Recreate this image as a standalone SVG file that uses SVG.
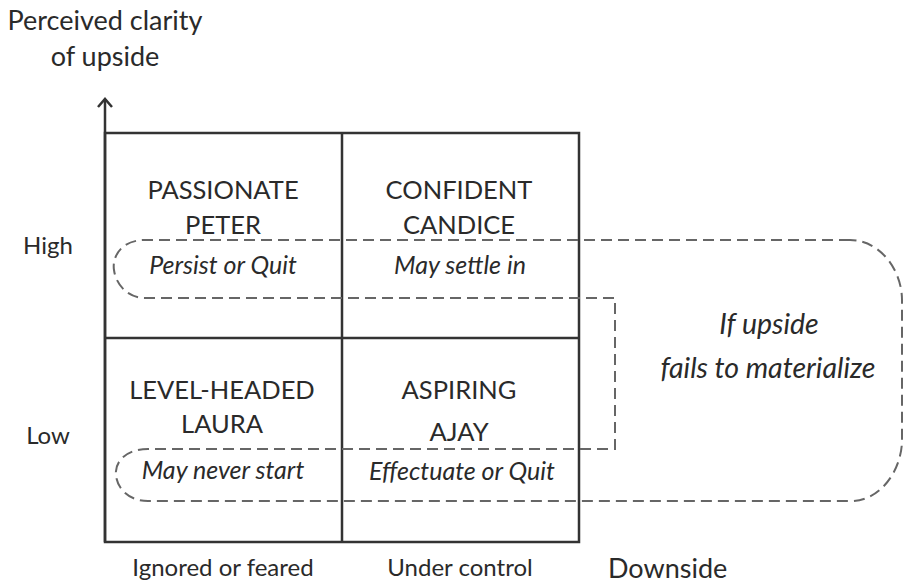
<svg xmlns="http://www.w3.org/2000/svg" width="903" height="584" viewBox="0 0 903 584">
<style>
  text { font-family: Lato, "Open Sans", "Liberation Sans", sans-serif; fill: #2a2a2a; }
  .name { font-size: 25.5px; text-anchor: middle; }
  .note { font-size: 25px; font-style: italic; text-anchor: middle; }
  .big-note { font-size: 28.5px; font-style: italic; text-anchor: middle; }
  .axis { font-size: 24px; text-anchor: middle; }
  .big { font-size: 27px; }
  .grid { stroke: #333; stroke-width: 2.5; fill: none; }
  .dash { stroke: #666; stroke-width: 2; fill: none; stroke-dasharray: 11 6; }
</style>
<rect width="903" height="584" fill="#fff"/>
<g id="axis-labels">
  <text class="big" x="105" y="30" text-anchor="middle">Perceived clarity</text>
  <text class="big" x="105" y="66" text-anchor="middle">of upside</text>
  <text class="axis" x="48" y="254">High</text>
  <text class="axis" x="48" y="444">Low</text>
  <text class="axis" x="223" y="576">Ignored or feared</text>
  <text class="axis" x="460" y="576">Under control</text>
  <text class="big" x="608" y="578">Downside</text>
</g>
<g id="grid">
  <line class="grid" x1="105" y1="99" x2="105" y2="542"/>
  <polyline class="grid" points="98,107 105,99 112,107"/>
  <rect class="grid" x="105" y="133" width="474" height="409"/>
  <line class="grid" x1="342" y1="133" x2="342" y2="542"/>
  <line class="grid" x1="105" y1="338" x2="579" y2="338"/>
</g>
<g id="connectors">
  <path class="dash" d="M850,240 H145 C120,240 112,258 114,270 C116,285 128,298 145,298 H615 V449 H148 C126,449 114,462 116,476 C118,490 130,501 148,501 H850 C880,502 902,470 902,440 V300 C902,270 880,240 850,240 Z"/>
</g>
<g id="passionate-peter">
  <text class="name" x="223" y="199">PASSIONATE</text>
  <text class="name" x="223" y="234">PETER</text>
  <text class="note" x="223" y="274">Persist or Quit</text>
</g>
<g id="confident-candice">
  <text class="name" x="459" y="199">CONFIDENT</text>
  <text class="name" x="459" y="234">CANDICE</text>
  <text class="note" x="460" y="274">May settle in</text>
</g>
<g id="level-headed-laura">
  <text class="name" x="222" y="399">LEVEL-HEADED</text>
  <text class="name" x="222" y="433">LAURA</text>
  <text class="note" x="223" y="479">May never start</text>
</g>
<g id="aspiring-ajay">
  <text class="name" x="459" y="399">ASPIRING</text>
  <text class="name" x="459" y="441">AJAY</text>
  <text class="note" x="462" y="480">Effectuate or Quit</text>
</g>
<g id="outcome">
  <text class="big-note" x="769" y="334">If upside</text>
  <text class="big-note" x="768" y="378">fails to materialize</text>
</g>
</svg>
